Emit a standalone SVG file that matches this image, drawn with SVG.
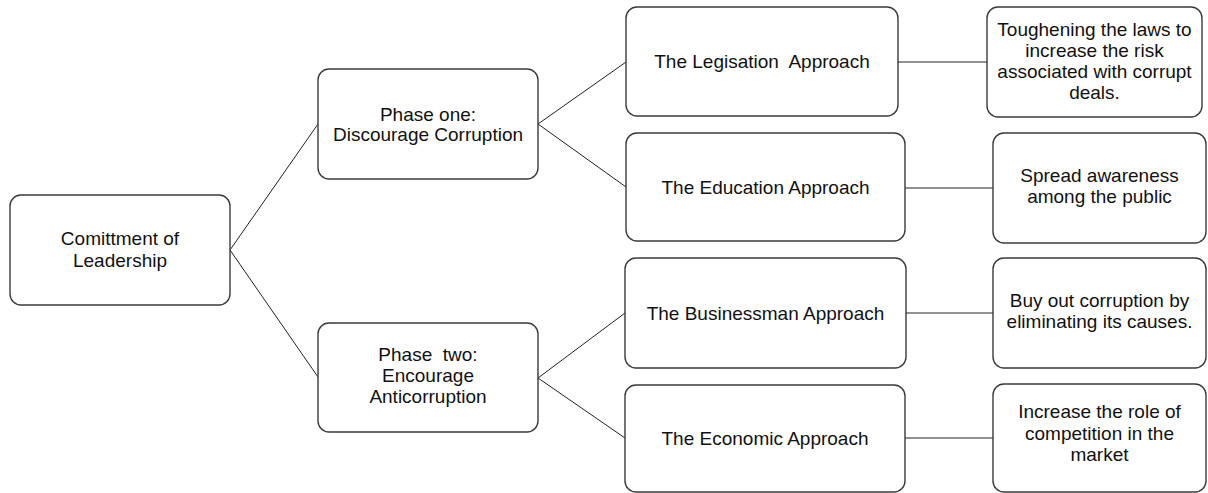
<svg xmlns="http://www.w3.org/2000/svg" width="1208" height="493" viewBox="0 0 1208 493">
<style>
.box{fill:#ffffff;stroke:#3a3a3a;stroke-width:1.4}
.t{font-family:"Liberation Sans",Arial,sans-serif;font-size:19px;fill:#111;text-anchor:middle;white-space:pre}
.c{stroke:#222;stroke-width:1;fill:none}
</style>
<rect width="1208" height="493" fill="#ffffff"/>
<g id="connectors">
<line class="c" x1="230" y1="250" x2="318" y2="124"/>
<line class="c" x1="230" y1="250" x2="318" y2="377"/>
<line class="c" x1="538" y1="124" x2="626" y2="62"/>
<line class="c" x1="538" y1="124" x2="626" y2="187"/>
<line class="c" x1="538" y1="378" x2="625" y2="313"/>
<line class="c" x1="538" y1="378" x2="625" y2="438"/>
<line class="c" x1="898" y1="62" x2="987" y2="62"/>
<line class="c" x1="905" y1="188" x2="993" y2="188"/>
<line class="c" x1="906" y1="313" x2="993" y2="313"/>
<line class="c" x1="905" y1="438" x2="993" y2="438"/>
</g>
<g id="root">
<rect class="box" x="10" y="195" width="220" height="110" rx="11"/>
<text class="t" x="120" y="245">Comittment of</text>
<text class="t" x="120" y="267">Leadership</text>
</g>
<g id="phase1">
<rect class="box" x="318" y="69" width="220" height="110" rx="11"/>
<text class="t" x="428" y="121">Phase one:</text>
<text class="t" x="428" y="141">Discourage Corruption</text>
</g>
<g id="phase2">
<rect class="box" x="318" y="323" width="220" height="109" rx="11"/>
<text class="t" x="428" y="361" xml:space="preserve">Phase  two:</text>
<text class="t" x="428" y="382">Encourage</text>
<text class="t" x="428" y="403">Anticorruption</text>
</g>
<g id="legislation">
<rect class="box" x="626" y="7" width="272" height="109" rx="11"/>
<text class="t" x="762" y="68" xml:space="preserve">The Legisation  Approach</text>
</g>
<g id="education">
<rect class="box" x="626" y="133" width="279" height="108" rx="11"/>
<text class="t" x="765.5" y="194">The Education Approach</text>
</g>
<g id="businessman">
<rect class="box" x="625" y="258" width="281" height="110" rx="11"/>
<text class="t" x="765.5" y="320">The Businessman Approach</text>
</g>
<g id="economic">
<rect class="box" x="625" y="385" width="280" height="107" rx="11"/>
<text class="t" x="765" y="445">The Economic Approach</text>
</g>
<g id="laws">
<rect class="box" x="987" y="7" width="215" height="110" rx="11"/>
<text class="t" x="1094.5" y="36">Toughening the laws to</text>
<text class="t" x="1094.5" y="57">increase the risk</text>
<text class="t" x="1094.5" y="78">associated with corrupt</text>
<text class="t" x="1094.5" y="99">deals.</text>
</g>
<g id="awareness">
<rect class="box" x="993" y="133" width="213" height="110" rx="11"/>
<text class="t" x="1099.5" y="182">Spread awareness</text>
<text class="t" x="1099.5" y="203">among the public</text>
</g>
<g id="buyout">
<rect class="box" x="993" y="258" width="213" height="110" rx="11"/>
<text class="t" x="1099.5" y="307">Buy out corruption by</text>
<text class="t" x="1099.5" y="328">eliminating its causes.</text>
</g>
<g id="competition">
<rect class="box" x="993" y="384" width="213" height="108" rx="11"/>
<text class="t" x="1099.5" y="418">Increase the role of</text>
<text class="t" x="1099.5" y="440">competition in the</text>
<text class="t" x="1099.5" y="461">market</text>
</g>
</svg>
